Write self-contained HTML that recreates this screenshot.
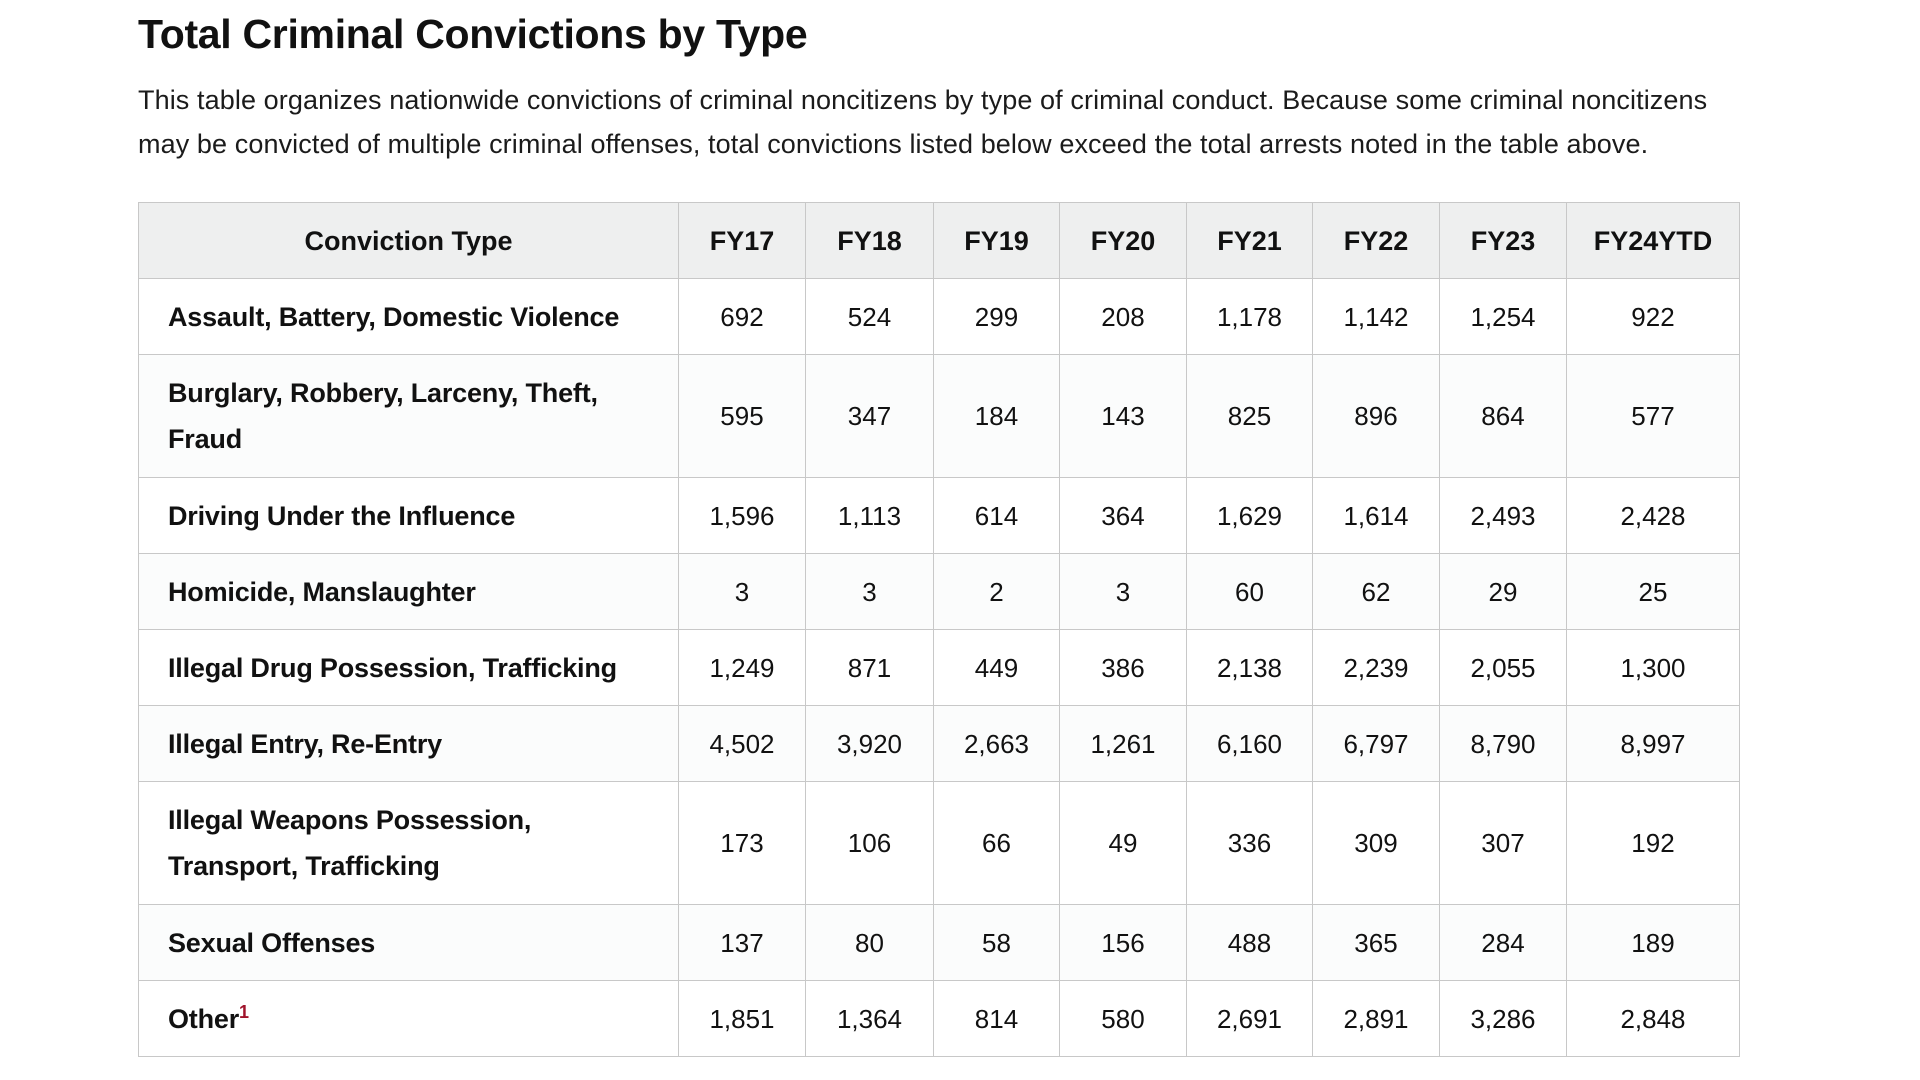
<!DOCTYPE html>
<html><head><meta charset="utf-8"><style>
html,body{margin:0;padding:0;background:#fff;width:1920px;height:1080px;overflow:hidden;font-family:"Liberation Sans",sans-serif;color:#111}
h1{position:absolute;left:138px;top:11px;margin:0;font-size:41px;font-weight:bold;letter-spacing:-0.3px;color:#111}
p{position:absolute;left:138px;top:78px;margin:0;font-size:27px;line-height:44px;letter-spacing:0.1px;white-space:nowrap;color:#1b1b1b}
table{position:absolute;left:138px;top:202px;border-collapse:collapse;table-layout:fixed;width:1601px}
td,th{border:1.5px solid #c8c8c8;font-size:26px;text-align:center;padding:0;letter-spacing:0px;line-height:46px}
th{background:#eeefef;height:75px;font-weight:bold;font-size:27px}
td.l{text-align:left;padding-left:29px;font-weight:bold;font-size:27px;letter-spacing:-0.2px}
tr.o td{background:#fbfcfc}
tr.s td{height:75px}
tr.d td{height:122px}
sup{color:#a0132b;font-size:18px;line-height:0}
</style></head><body>
<h1>Total Criminal Convictions by Type</h1>
<p>This table organizes nationwide convictions of criminal noncitizens by type of criminal conduct. Because some criminal noncitizens<br>may be convicted of multiple criminal offenses, total convictions listed below exceed the total arrests noted in the table above.</p>
<table>
<colgroup><col style="width:540px"><col style="width:127px"><col style="width:128px"><col style="width:126px"><col style="width:127px"><col style="width:126px"><col style="width:127px"><col style="width:127px"><col style="width:173px"></colgroup>
<tr><th>Conviction Type</th><th>FY17</th><th>FY18</th><th>FY19</th><th>FY20</th><th>FY21</th><th>FY22</th><th>FY23</th><th>FY24YTD</th></tr>
<tr class="s"><td class="l">Assault, Battery, Domestic Violence</td><td>692</td><td>524</td><td>299</td><td>208</td><td>1,178</td><td>1,142</td><td>1,254</td><td>922</td></tr>
<tr class="d o"><td class="l">Burglary, Robbery, Larceny, Theft,<br>Fraud</td><td>595</td><td>347</td><td>184</td><td>143</td><td>825</td><td>896</td><td>864</td><td>577</td></tr>
<tr class="s"><td class="l">Driving Under the Influence</td><td>1,596</td><td>1,113</td><td>614</td><td>364</td><td>1,629</td><td>1,614</td><td>2,493</td><td>2,428</td></tr>
<tr class="s o"><td class="l">Homicide, Manslaughter</td><td>3</td><td>3</td><td>2</td><td>3</td><td>60</td><td>62</td><td>29</td><td>25</td></tr>
<tr class="s"><td class="l">Illegal Drug Possession, Trafficking</td><td>1,249</td><td>871</td><td>449</td><td>386</td><td>2,138</td><td>2,239</td><td>2,055</td><td>1,300</td></tr>
<tr class="s o"><td class="l">Illegal Entry, Re-Entry</td><td>4,502</td><td>3,920</td><td>2,663</td><td>1,261</td><td>6,160</td><td>6,797</td><td>8,790</td><td>8,997</td></tr>
<tr class="d"><td class="l">Illegal Weapons Possession,<br>Transport, Trafficking</td><td>173</td><td>106</td><td>66</td><td>49</td><td>336</td><td>309</td><td>307</td><td>192</td></tr>
<tr class="s o"><td class="l">Sexual Offenses</td><td>137</td><td>80</td><td>58</td><td>156</td><td>488</td><td>365</td><td>284</td><td>189</td></tr>
<tr class="s"><td class="l">Other<sup>1</sup></td><td>1,851</td><td>1,364</td><td>814</td><td>580</td><td>2,691</td><td>2,891</td><td>3,286</td><td>2,848</td></tr>
</table>
</body></html>
